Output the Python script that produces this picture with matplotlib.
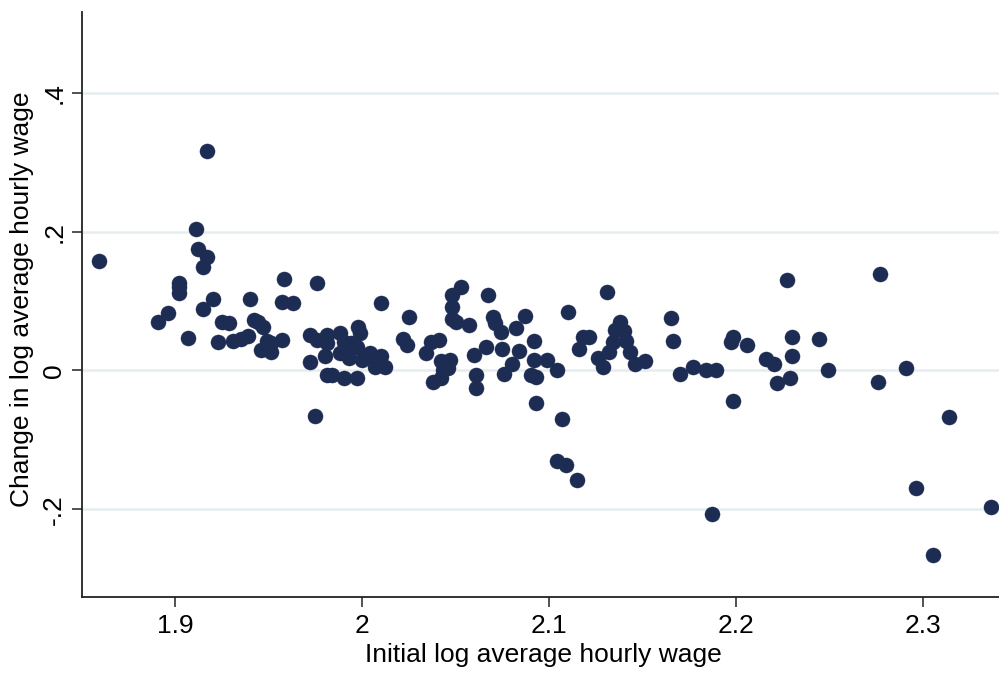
import matplotlib.pyplot as plt

# Initial log average hourly wage (x) and change in log wage (y)
init_wage = [
    1.917, 1.911, 1.912, 1.917, 1.915, 1.859, 1.902, 1.902, 1.902, 1.958,
    1.976, 1.920, 1.940, 1.957, 1.963, 2.010, 1.915, 1.896, 1.891, 1.925,
    1.929, 1.942, 1.944, 1.947, 1.907, 1.923, 1.931, 1.935, 1.939, 1.949,
    1.951, 1.946, 1.951, 1.957, 1.975,
    1.972, 1.976, 1.981, 1.981, 1.988, 1.990, 1.994, 1.998, 1.999, 1.997,
    1.972, 1.980, 1.988, 1.993, 2.000, 2.004, 2.010, 2.007, 2.012, 1.981,
    1.984, 1.990, 1.997, 2.025, 2.022, 2.024, 2.034, 1.992, 2.002,
    2.053, 2.048, 2.048, 2.067, 2.048, 2.050, 2.057, 2.070, 2.071, 2.074,
    2.082, 2.087, 2.110, 2.037, 2.041, 2.042, 2.045, 2.043, 2.046, 2.047,
    2.038, 2.042, 2.060, 2.066, 2.075, 2.084, 2.061, 2.061, 2.080, 2.076,
    2.092, 2.092, 2.099, 2.090, 2.093, 2.104, 2.093,
    2.131, 2.118, 2.121, 2.116, 2.138, 2.135, 2.140, 2.134, 2.141, 2.132,
    2.126, 2.129, 2.143, 2.146, 2.151, 2.165, 2.166, 2.170, 2.177, 2.184,
    2.189, 2.198, 2.197,
    2.227, 2.277, 2.206, 2.216, 2.220, 2.230, 2.230, 2.244, 2.229, 2.222,
    2.249, 2.198, 2.276, 2.291, 2.314, 2.107, 2.104, 2.109, 2.115, 2.187,
    2.296, 2.336, 2.305,
]
wage_change = [
    0.316, 0.204, 0.175, 0.164, 0.149, 0.157, 0.126, 0.120, 0.112, 0.132,
    0.126, 0.103, 0.103, 0.098, 0.097, 0.097, 0.089, 0.083, 0.070, 0.070,
    0.068, 0.073, 0.070, 0.063, 0.047, 0.041, 0.043, 0.046, 0.049, 0.043,
    0.039, 0.030, 0.027, 0.044, -0.066,
    0.051, 0.044, 0.051, 0.039, 0.054, 0.041, 0.039, 0.062, 0.054, 0.034,
    0.012, 0.021, 0.025, 0.018, 0.015, 0.025, 0.021, 0.005, 0.005, -0.006,
    -0.006, -0.011, -0.011, 0.077, 0.046, 0.037, 0.025, 0.034, 0.020,
    0.120, 0.109, 0.092, 0.108, 0.074, 0.070, 0.065, 0.077, 0.068, 0.056,
    0.061, 0.079, 0.084, 0.041, 0.044, 0.013, 0.010, 0.001, 0.003, 0.015,
    -0.016, -0.011, 0.022, 0.034, 0.031, 0.028, -0.006, -0.025, 0.010, -0.005,
    0.042, 0.015, 0.015, -0.006, -0.009, 0.000, -0.047,
    0.113, 0.048, 0.048, 0.031, 0.070, 0.058, 0.057, 0.041, 0.043, 0.026,
    0.018, 0.005, 0.026, 0.010, 0.013, 0.075, 0.043, -0.005, 0.005, 0.000,
    0.000, 0.048, 0.041,
    0.130, 0.139, 0.037, 0.016, 0.009, 0.048, 0.021, 0.045, -0.011, -0.018,
    0.000, -0.044, -0.016, 0.003, -0.067, -0.070, -0.130, -0.136, -0.158, -0.207,
    -0.169, -0.196, -0.265,
]

x_ticks = [1.9, 2.0, 2.1, 2.2, 2.3]
x_tick_labels = ["1.9", "2", "2.1", "2.2", "2.3"]
y_ticks = [-0.2, 0.0, 0.2, 0.4]
y_tick_labels = ["-.2", "0", ".2", ".4"]

plt.rcParams["font.family"] = ["Liberation Sans", "DejaVu Sans"]

fig = plt.figure(figsize=(9.99, 6.73), dpi=100)
ax = fig.add_axes([0.0818, 0.1134, 0.9182, 0.8695])

# horizontal grid lines only, like the Stata scheme
for yv in y_ticks:
    ax.axhline(yv, color="#e5edf0", linewidth=1.8, zorder=0)

ax.scatter(init_wage, wage_change, s=118, color="#1d2c52",
           edgecolors="#1d2c52", linewidths=0.3, zorder=3)

ax.set_xlim(1.85, 2.3405)
ax.set_ylim(-0.3257, 0.5169)

ax.set_xticks(x_ticks)
ax.set_xticklabels(x_tick_labels, fontsize=19)
ax.set_yticks(y_ticks)
ax.set_yticklabels(y_tick_labels, fontsize=19, rotation=90, va="center")

ax.tick_params(axis="both", direction="out", length=7.2, width=1.1,
               color="#222222")
ax.tick_params(axis="x", pad=5)
ax.tick_params(axis="y", pad=4)

ax.spines["top"].set_visible(False)
ax.spines["right"].set_visible(False)
for side in ["left", "bottom"]:
    ax.spines[side].set_color("#222222")
    ax.spines[side].set_linewidth(1.3)

ax.set_xlabel("Initial log average hourly wage", fontsize=19, va="center")
ax.xaxis.set_label_coords(0.503, -0.0996)
ax.set_ylabel("Change in log average hourly wage", fontsize=19, va="center")
ax.yaxis.set_label_coords(-0.065, 0.509)

fig.savefig("out.png", dpi=100)
plt.close(fig)
